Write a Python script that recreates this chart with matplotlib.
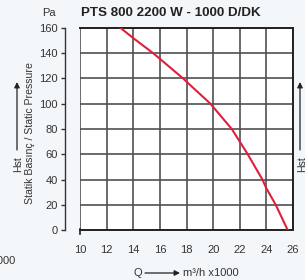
import matplotlib
matplotlib.use("Agg")
import matplotlib.pyplot as plt
from matplotlib.lines import Line2D

# Data
flow_q = [13.05, 14.0, 15.5, 16.0, 17.75, 18.0, 19.8, 20.0, 21.4, 22.0, 22.6, 23.7, 24.0, 24.7, 25.6]
pressure_pa = [160, 152, 140, 135.6, 120, 117.5, 100, 97.5, 80, 70, 60, 40, 33, 20, 0]
x_ticks = [10, 12, 14, 16, 18, 20, 22, 24, 26]
y_ticks = [0, 20, 40, 60, 80, 100, 120, 140, 160]
title = "PTS 800 2200 W - 1000 D/DK"

plt.rcParams['font.family'] = ['Liberation Sans', 'DejaVu Sans']

W, H = 305, 280
fig = plt.figure(figsize=(W / 100, H / 100), dpi=100, facecolor='#f4f7fa')
ax = fig.add_axes([80 / W, 1 - 230 / H, 213 / W, 202 / H])
ax.set_facecolor('white')

ax.plot(flow_q, pressure_pa, color='#e0203a', lw=1.5, zorder=3,
        solid_joinstyle='round')

ax.set_xlim(10, 26)
ax.set_ylim(0, 160)
ax.set_xticks(x_ticks)
ax.set_yticks(y_ticks)
ax.grid(True, color='#505050', lw=1.2)
ax.set_axisbelow(True)

for s in ['top', 'right', 'bottom']:
    ax.spines[s].set_color('#222222')
    ax.spines[s].set_linewidth(1.4)
ax.spines['left'].set_position(('outward', 10.8))
ax.spines['left'].set_color('#333333')
ax.spines['left'].set_linewidth(1.0)

ax.tick_params(axis='y', length=3, width=1.0, color='#333333', pad=2,
               labelsize=8, labelcolor='#333333')
ax.tick_params(axis='x', length=0, pad=11, labelsize=8, labelcolor='#333333')

# small tick at the left grid corner
fig.add_artist(Line2D([80 / W, 80 / W], [1 - 229 / H, 1 - 234 / H],
                      color='#222222', lw=1.2))

# title and labels
fig.text(81 / W, 1 - 13 / H, title, fontsize=9.6, fontweight='bold',
         color='#222222', ha='left', va='center')
fig.text(49 / W, 1 - 13 / H, "Pa", fontsize=8, color='#333333',
         ha='center', va='center')
fig.text(30 / W, 1 - 133 / H, "Statik Basınç / Static Pressure", fontsize=7.6,
         color='#333333', rotation=90, ha='center', va='center')
fig.text(18 / W, 1 - 164 / H, "Hst", fontsize=7.6, color='#333333',
         rotation=90, ha='center', va='center')
fig.text(302 / W, 1 - 164 / H, "Hst", fontsize=7.6, color='#333333',
         rotation=90, ha='center', va='center')

arrow_kw = dict(arrowstyle='-|>', color='#222222', lw=0.9, mutation_scale=8,
                shrinkA=0, shrinkB=0)
for xp in (17, 300):
    ax.annotate('', xy=(xp, H - 82), xytext=(xp, H - 150),
                xycoords='figure pixels', textcoords='figure pixels',
                arrowprops=arrow_kw, annotation_clip=False)

fig.text(138 / W, 1 - 273 / H, "Q", fontsize=8, color='#333333',
         ha='center', va='center')
ax.annotate('', xy=(180, H - 273), xytext=(145, H - 273),
            xycoords='figure pixels', textcoords='figure pixels',
            arrowprops=arrow_kw, annotation_clip=False)
fig.text(183 / W, 1 - 273 / H, "m³/h x1000", fontsize=8, color='#333333',
         ha='left', va='center')
fig.text(16 / W, 1 - 261 / H, "x1000", fontsize=8, color='#333333',
         ha='right', va='center')

fig.savefig("out.png", dpi=100, facecolor=fig.get_facecolor())
